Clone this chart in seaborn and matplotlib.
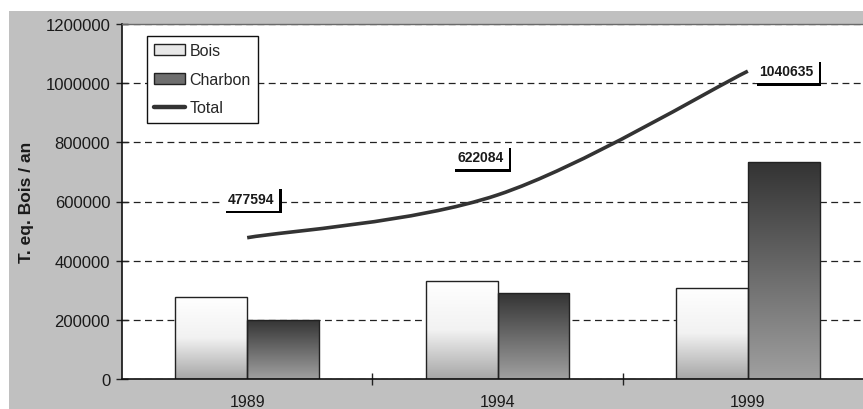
import numpy as np
import pandas as pd
import matplotlib
matplotlib.use("Agg")
import matplotlib.pyplot as plt
import seaborn as sns
from matplotlib.colors import LinearSegmentedColormap
from matplotlib.patches import Patch, Rectangle, PathPatch
from matplotlib.lines import Line2D
from matplotlib.path import Path
import matplotlib.patheffects as pe

# données
annees = ["1989", "1994", "1999"]
bois = [278000, 331000, 308000]
charbon = [199600, 291000, 732600]
total = [477594, 622084, 1040635]
series = ["Bois", "Charbon"]

sns.set_theme(style="white")
plt.rcParams["font.family"] = ["Liberation Sans", "DejaVu Sans"]

df = pd.DataFrame({
    "annee": annees * 2,
    "valeur": bois + charbon,
    "type": [series[0]] * 3 + [series[1]] * 3,
})

fig = plt.figure(figsize=(8.63, 4.10), dpi=100, facecolor="white")
# fond gris type Excel
fig.add_artist(Rectangle((9 / 863, 0), 1, 1 - 12 / 410, transform=fig.transFigure,
                         facecolor="#c0c0c0", edgecolor="none", zorder=-10))
ax = fig.add_axes([122 / 863, 1 - 380 / 410, 1 - 122 / 863, 355 / 410])
ax.set_facecolor("white")

sns.barplot(data=df, x="annee", y="valeur", hue="type", order=annees,
            palette=["#e6e6e6", "#6a6a6a"], width=0.575, gap=0,
            edgecolor="#222222", linewidth=1.0, legend=False, ax=ax)

# dégradés dans les barres
grad = np.linspace(0, 1, 256).reshape(-1, 1)
cmaps = {
    series[0]: LinearSegmentedColormap.from_list("b", ["#ffffff", "#f2f2f2", "#a6a6a6"]),
    series[1]: LinearSegmentedColormap.from_list("c", ["#333333", "#a0a0a0"]),
}
bars = [p for p in ax.patches if p.get_height() > 0]
for i, bar in enumerate(bars):
    nom = series[i // len(annees)]
    x0, y0 = bar.get_xy()
    w, h = bar.get_width(), bar.get_height()
    im = ax.imshow(grad, cmap=cmaps[nom], extent=(x0, x0 + w, y0, y0 + h),
                   aspect="auto", origin="upper", zorder=0.9)
    im.set_clip_path(bar)
    bar.set_facecolor("none")
    bar.set_zorder(1)

# courbe lissée du total (Bezier façon Excel)
xs = np.arange(len(total), dtype=float)
ys = np.array(total, dtype=float)
verts = [(xs[0], ys[0])]
codes = [Path.MOVETO]
for k in range(len(xs) - 1):
    p0 = np.array([xs[max(k - 1, 0)], ys[max(k - 1, 0)]])
    p1 = np.array([xs[k], ys[k]])
    p2 = np.array([xs[k + 1], ys[k + 1]])
    p3 = np.array([xs[min(k + 2, len(xs) - 1)], ys[min(k + 2, len(xs) - 1)]])
    c1 = p1 + (p2 - p0) / 6
    c2 = p2 - (p3 - p1) / 6
    verts += [tuple(c1), tuple(c2), tuple(p2)]
    codes += [Path.CURVE4] * 3
ax.add_patch(PathPatch(Path(verts, codes), facecolor="none", edgecolor="#333333",
                       linewidth=2.6, capstyle="butt", zorder=3))

# étiquettes du total
decalages = [(3, 28), (-12, 27), (28, 0)]
for x, y, off in zip(xs, total, decalages):
    t = ax.annotate(str(y), (x, y), xytext=off, textcoords="offset points",
                    ha="center", va="center", fontsize=10, fontweight="bold",
                    color="#1a1a1a", zorder=4,
                    bbox=dict(boxstyle="square,pad=0.35", facecolor="white",
                              edgecolor="none"))
    t.get_bbox_patch().set_path_effects(
        [pe.withSimplePatchShadow(offset=(1.8, -1.8), shadow_rgbFace="black", alpha=1)])

ax.set_xlim(-0.5, 2.46)
ax.set_ylim(0, 1200000)
ax.set_yticks(np.arange(0, 1200001, 200000))
ax.set_yticklabels([str(v) for v in range(0, 1200001, 200000)])
ax.set_xticks([0.5, 1.5], minor=True)
ax.tick_params(axis="x", which="major", length=0, pad=11, labelsize=11.5, labelcolor="#1a1a1a")
ax.tick_params(axis="x", which="minor", direction="inout", length=9, width=1, color="#222222",
               bottom=True)
ax.tick_params(axis="y", direction="inout", length=9, width=1, color="#222222", left=True,
               pad=4, labelsize=12, labelcolor="#1a1a1a")
ax.set_axisbelow(True)
ax.yaxis.grid(True, linestyle=(0, (5.5, 3.5)), color="#222222", linewidth=0.9)
ax.set_xlabel("")
ax.set_ylabel("T. eq. Bois / an", fontsize=12.5, fontweight="bold", color="#1a1a1a",
              labelpad=8)

for s in ["left", "bottom"]:
    ax.spines[s].set_color("#111111")
    ax.spines[s].set_linewidth(1.2)
ax.spines["top"].set_color("#6a6a6a")
ax.spines["top"].set_linewidth(1.0)
ax.spines["right"].set_visible(False)

handles = [
    Patch(facecolor="#e8e8e8", edgecolor="#222222", linewidth=1),
    Patch(facecolor="#6e6e6e", edgecolor="#222222", linewidth=1),
    Line2D([], [], color="#333333", linewidth=3.2),
]
leg = ax.legend(handles, ["Bois", "Charbon", "Total"], loc="upper left",
                bbox_to_anchor=(0.034, 0.966), fontsize=11.5, frameon=True,
                fancybox=False, framealpha=1, edgecolor="#111111",
                handlelength=1.9, handletextpad=0.3, labelspacing=0.85,
                borderpad=0.45, borderaxespad=0)
leg.get_frame().set_linewidth(1.0)

fig.savefig("out.png", dpi=100)
